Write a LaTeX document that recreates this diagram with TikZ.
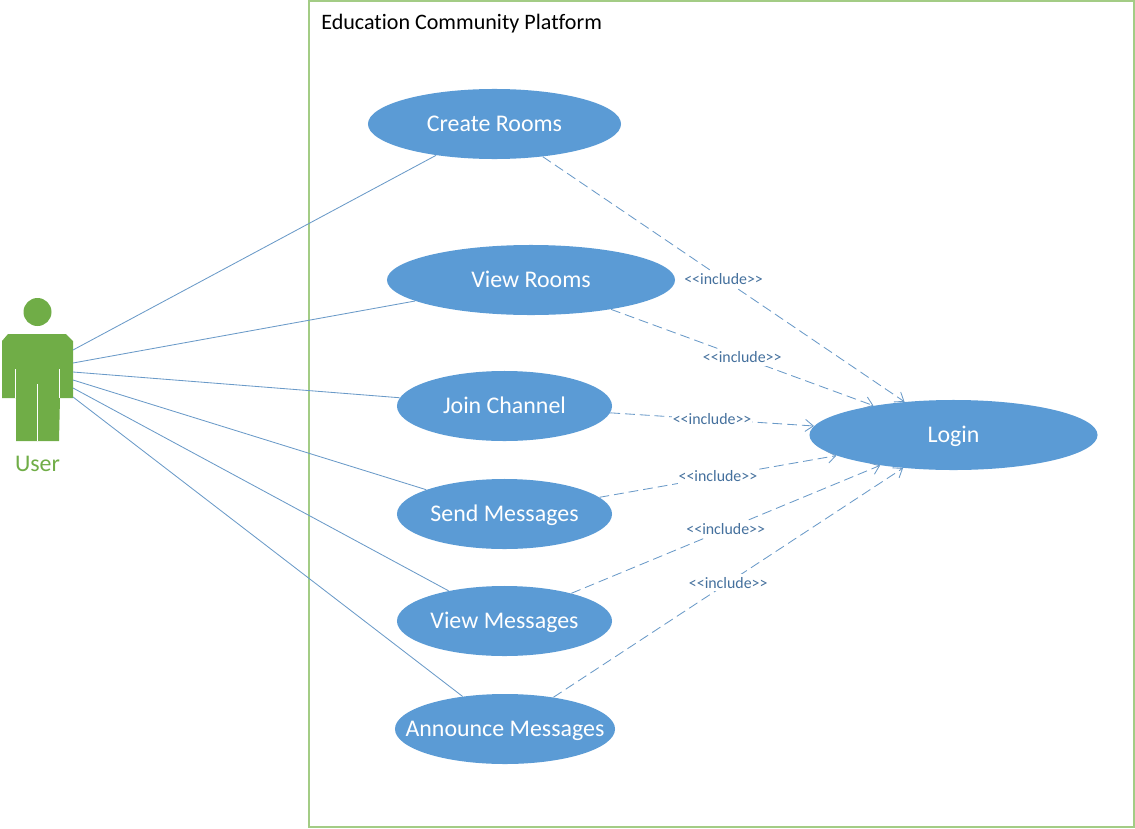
\documentclass[tikz,border=0pt]{standalone}
\usepackage{fontspec}
\setmainfont{Carlito}[Ligatures=CommonOff]
\usetikzlibrary{shapes.geometric,arrows.meta}
\definecolor{usecase}{HTML}{5B9BD5}
\definecolor{actorgreen}{HTML}{70AD47}
\definecolor{framegreen}{HTML}{A3CC85}
\definecolor{linkblue}{HTML}{6A9AC8}
\definecolor{labelblue}{HTML}{44709D}
\tikzset{
  usecasebox/.style={ellipse,fill=usecase,text=white,inner sep=-1cm,minimum height=1.75cm,text height=10.7pt,text depth=0pt,font=\fontsize{17}{20}\selectfont},
  assoc/.style={draw=linkblue,line width=0.6pt},
  incl/.style={draw=linkblue,line width=0.6pt,dash pattern=on 7pt off 3.5pt,-{Straight Barb[length=2mm,width=3mm]}},
  incllabel/.style={midway,fill=white,inner xsep=0.5pt,inner ysep=2pt,text=labelblue,font=\fontsize{11.3}{13}\selectfont}
}
\begin{document}
\begin{tikzpicture}[x=0.025cm,y=-0.025cm]
\useasboundingbox (0,0) rectangle (1135,828);
\draw[framegreen,line width=0.85pt] (309,1) rectangle (1134,827);
\node[anchor=west,inner sep=0pt,font=\fontsize{15.7}{18}\selectfont] (title) at (321,24) {Education Community Platform};
% actor
\fill[actorgreen] (37.5,312) circle (14);
\fill[actorgreen] (2,341) -- (8,334) -- (66,334) -- (73,341) -- (73,398) -- (60,398) -- (59,441) -- (16,441) -- (16,398) -- (2,398) -- cycle;
\draw[white,line width=0.6pt] (15.5,369) -- (15.5,398);
\draw[white,line width=0.6pt] (59,369) -- (59,398);
\draw[white,line width=0.6pt] (37.5,384) -- (37.5,441);
\node[text=actorgreen,font=\fontsize{17}{20}\selectfont] (user) at (37.5,464) {User};
\coordinate (ua) at (73,350);
\coordinate (ub) at (73,363);
\coordinate (uc) at (73,372);
\coordinate (ud) at (73,380);
\coordinate (ue) at (73,388);
\coordinate (uf) at (73,397);
% use cases
\node[usecasebox,minimum width=6.325cm] (create) at (494.5,124) {Create Rooms};
\node[usecasebox,minimum width=7.2cm] (rooms) at (531,280) {View Rooms};
\node[usecasebox,minimum width=5.375cm] (join) at (504.5,406) {Join Channel};
\node[usecasebox,minimum width=5.375cm] (send) at (504.5,514) {Send Messages};
\node[usecasebox,minimum width=5.375cm] (viewmsg) at (504.5,621) {View Messages};
\node[usecasebox,minimum width=5.5cm] (announce) at (505,729) {Announce Messages};
\node[usecasebox,minimum width=7.2cm] (login) at (953.5,435) {Login};
% actor links
\draw[assoc] (ua) -- (create);
\draw[assoc] (ub) -- (rooms);
\draw[assoc] (uc) -- (join);
\draw[assoc] (ud) -- (send);
\draw[assoc] (ue) -- (viewmsg);
\draw[assoc] (uf) -- (announce);
% includes
\draw[incl] (create) -- node[incllabel] {<{}<include>{}>} (login);
\draw[incl] (rooms) -- node[incllabel] {<{}<include>{}>} (login);
\draw[incl] (join) -- node[incllabel] {<{}<include>{}>} (login);
\draw[incl] (send) -- node[incllabel] {<{}<include>{}>} (login);
\draw[incl] (viewmsg) -- node[incllabel] {<{}<include>{}>} (login);
\draw[incl] (announce) -- node[incllabel] {<{}<include>{}>} (login);
\end{tikzpicture}
\end{document}
